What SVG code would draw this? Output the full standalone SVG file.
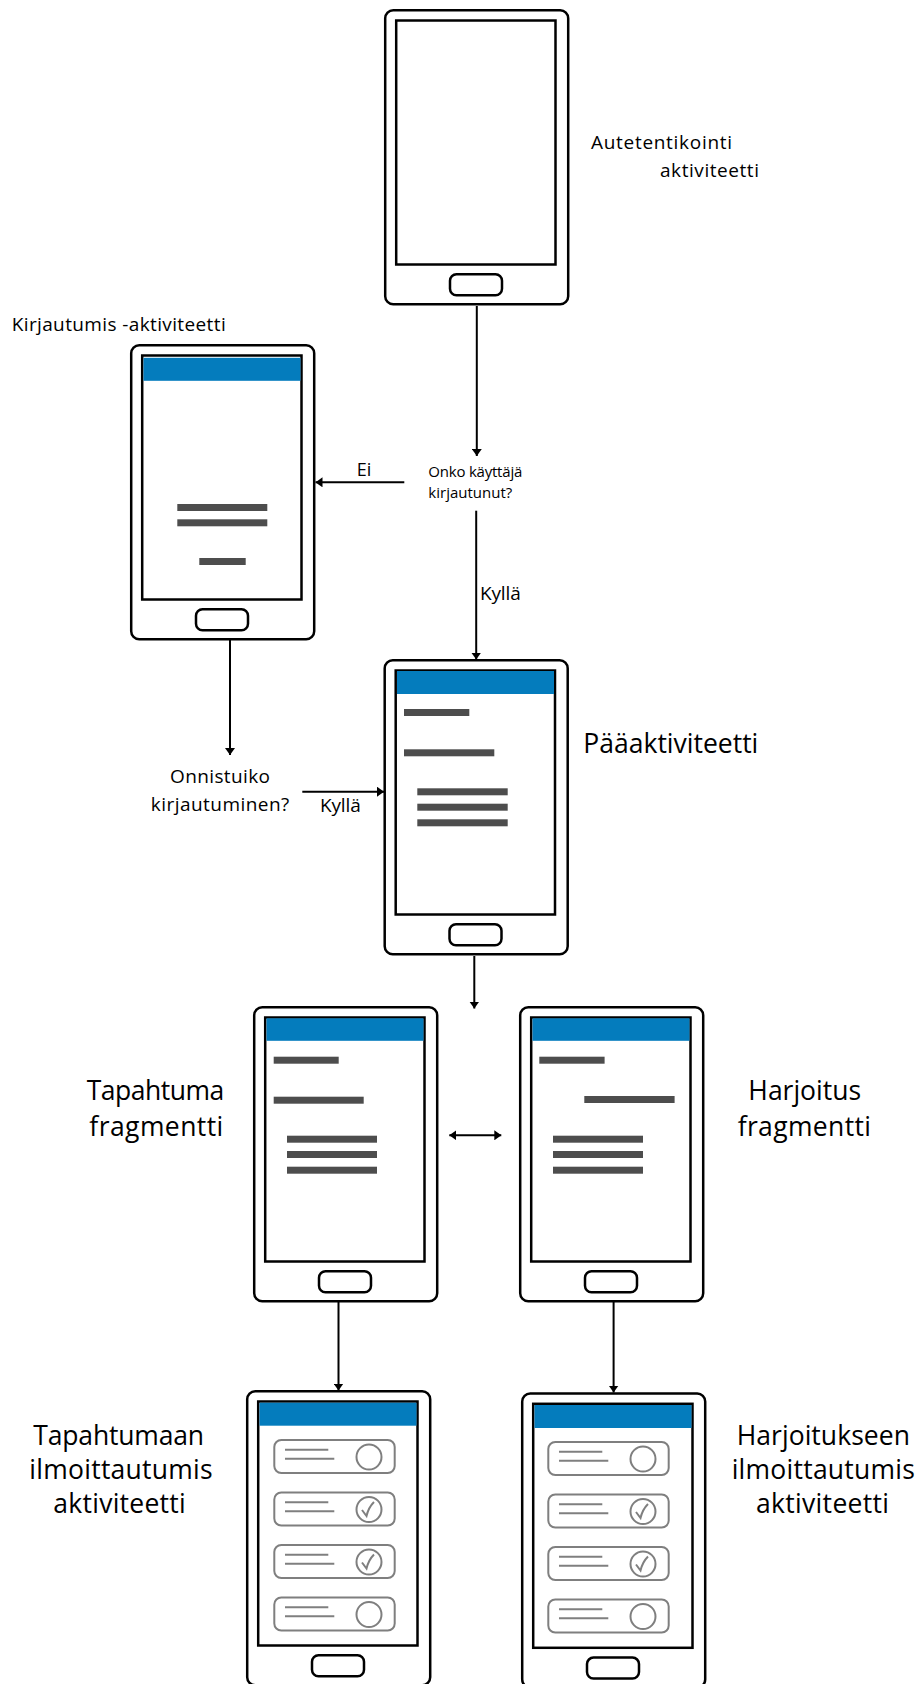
<svg xmlns="http://www.w3.org/2000/svg" width="919" height="1684" viewBox="0 0 919 1684">
  <style>
    .frame { fill: #fff; stroke: #000; stroke-width: 2.5; }
    .screen { fill: #fff; stroke: #000; stroke-width: 2.5; }
    .btn { fill: #fff; stroke: #000; stroke-width: 2.5; }
    .header { fill: #047cbd; }
    .bar { fill: #4d4d4d; }
    .row { fill: none; stroke: #7f7f7f; stroke-width: 2; }
    .wire { fill: none; stroke: #000; stroke-width: 2; }
    .lbl { font-family: "Open Sans", "Noto Sans", sans-serif; fill: #000; }
    .s15 { font-size: 15px; }
    .s19 { font-size: 19px; }
    .big { font-size: 26.5px; }
  </style>
  <defs>
    <marker id="head" markerUnits="userSpaceOnUse" markerWidth="7" markerHeight="10" viewBox="0 0 7 10" refX="7" refY="5" orient="auto-start-reverse">
      <path d="M0,0 L7,5 L0,10 Z" fill="#000"/>
    </marker>
    <!-- bare handset: body, screen, home button -->
    <symbol id="phone" overflow="visible">
      <rect class="frame" x="1.2" y="1.2" width="183" height="294" rx="8"/>
      <rect class="screen" x="12.2" y="11.5" width="159.3" height="244"/>
      <rect class="btn" x="66" y="265.3" width="52" height="21" rx="6.5"/>
    </symbol>
    <!-- list row: text lines and a round toggle -->
    <g id="row">
      <rect class="row" x="0" y="0" width="120.4" height="33" rx="7"/>
      <line class="row" x1="10.7" y1="9.7" x2="54" y2="9.7"/>
      <line class="row" x1="10.7" y1="18.7" x2="60" y2="18.7"/>
      <circle class="row" cx="94.7" cy="17" r="12.5"/>
    </g>
    <path id="tick" class="row" d="M99.7,9.5 Q94.2,15 92.2,23.5 L87.7,17.5"/>
  </defs>

  <!-- connectors -->
  <g id="connectors">
    <line class="wire" x1="476.8" y1="306" x2="476.8" y2="456" marker-end="url(#head)"/>
    <line class="wire" x1="404.3" y1="482.3" x2="315.5" y2="482.3" marker-end="url(#head)"/>
    <line class="wire" x1="476.2" y1="510.7" x2="476.2" y2="659.5" marker-end="url(#head)"/>
    <line class="wire" x1="230" y1="640" x2="230" y2="755" marker-end="url(#head)"/>
    <line class="wire" x1="302.3" y1="791.7" x2="384" y2="791.7" marker-end="url(#head)"/>
    <line class="wire" x1="474.3" y1="956" x2="474.3" y2="1008.5" marker-end="url(#head)"/>
    <line class="wire" x1="449.3" y1="1135.3" x2="501.3" y2="1135.3" marker-start="url(#head)" marker-end="url(#head)"/>
    <line class="wire" x1="338.5" y1="1302" x2="338.5" y2="1390.5" marker-end="url(#head)"/>
    <line class="wire" x1="613.6" y1="1302" x2="613.6" y2="1392.5" marker-end="url(#head)"/>
    <text class="lbl" x="356.7" y="475.7" font-size="18" textLength="14.5">Ei</text>
    <text class="lbl s19" x="480" y="600" textLength="40.7">Kyllä</text>
    <text class="lbl s19" x="320" y="811.7" textLength="40.7">Kyllä</text>
  </g>

  <!-- authentication activity -->
  <g id="auth-activity">
    <use href="#phone" transform="translate(384,9)"/>
    <text class="lbl s19" x="591" y="149" textLength="141">Autetentikointi</text>
    <text class="lbl s19" x="660" y="177" textLength="99">aktiviteetti</text>
  </g>

  <!-- login decision -->
  <g id="logged-in-check">
    <text class="lbl s15" x="428.3" y="476.7" textLength="94">Onko käyttäjä</text>
    <text class="lbl s15" x="428.3" y="498" textLength="84">kirjautunut?</text>
  </g>

  <!-- login activity -->
  <g id="login-activity">
    <text class="lbl s19" x="11.7" y="331" textLength="214">Kirjautumis -aktiviteetti</text>
    <g transform="translate(130,344)">
      <use href="#phone"/>
      <rect class="header" x="13.5" y="13.8" width="157" height="23"/>
      <rect class="bar" x="47.3" y="160" width="90" height="7"/>
      <rect class="bar" x="47.3" y="175.3" width="90" height="7"/>
      <rect class="bar" x="69.3" y="214" width="46.4" height="7"/>
    </g>
  </g>

  <!-- login result decision -->
  <g id="login-ok-check">
    <text class="lbl s19" x="220" y="782.7" text-anchor="middle" textLength="100">Onnistuiko</text>
    <text class="lbl s19" x="220" y="810.7" text-anchor="middle" textLength="138.6">kirjautuminen?</text>
  </g>

  <!-- main activity -->
  <g id="main-activity">
    <g transform="translate(383.5,659)">
      <use href="#phone"/>
      <rect class="header" x="13.5" y="12" width="157" height="23"/>
      <rect class="bar" x="20.5" y="50" width="65.3" height="7"/>
      <rect class="bar" x="20.5" y="90.3" width="90.3" height="7"/>
      <rect class="bar" x="33.8" y="129.3" width="90.4" height="7"/>
      <rect class="bar" x="33.8" y="144.7" width="90.4" height="7"/>
      <rect class="bar" x="33.8" y="160.3" width="90.4" height="7"/>
    </g>
    <text class="lbl big" x="583.3" y="752.7" textLength="175">Pääaktiviteetti</text>
  </g>

  <!-- event fragment -->
  <g id="event-fragment">
    <g transform="translate(253,1006)">
      <use href="#phone"/>
      <rect class="header" x="13.5" y="12.3" width="157" height="22.5"/>
      <rect class="bar" x="20.7" y="50.7" width="65" height="7"/>
      <rect class="bar" x="20.7" y="90.7" width="90" height="7"/>
      <rect class="bar" x="34" y="129.7" width="90" height="7"/>
      <rect class="bar" x="34" y="145" width="90" height="7"/>
      <rect class="bar" x="34" y="160.7" width="90" height="7"/>
    </g>
    <text class="lbl big" x="155.5" y="1100" text-anchor="middle" textLength="137.6">Tapahtuma</text>
    <text class="lbl big" x="156.3" y="1135.7" text-anchor="middle" textLength="134">fragmentti</text>
  </g>

  <!-- training fragment -->
  <g id="training-fragment">
    <g transform="translate(519,1006)">
      <use href="#phone"/>
      <rect class="header" x="13.5" y="12.3" width="157" height="22.5"/>
      <rect class="bar" x="20.3" y="50.7" width="65.3" height="7"/>
      <rect class="bar" x="65.3" y="90" width="90.3" height="7"/>
      <rect class="bar" x="34" y="129.7" width="90" height="7"/>
      <rect class="bar" x="34" y="145" width="90" height="7"/>
      <rect class="bar" x="34" y="160.7" width="90" height="7"/>
    </g>
    <text class="lbl big" x="804.7" y="1100" text-anchor="middle" textLength="112.7">Harjoitus</text>
    <text class="lbl big" x="804.3" y="1135.7" text-anchor="middle" textLength="133.3">fragmentti</text>
  </g>

  <!-- event sign-up activity -->
  <g id="event-signup-activity">
    <g transform="translate(246,1390)">
      <use href="#phone"/>
      <rect class="header" x="13.5" y="12.7" width="157" height="23"/>
      <use href="#row" transform="translate(28.3,50)"/>
      <use href="#row" transform="translate(28.3,102.5)"/>
      <use href="#tick" transform="translate(28.3,102.5)"/>
      <use href="#row" transform="translate(28.3,155)"/>
      <use href="#tick" transform="translate(28.3,155)"/>
      <use href="#row" transform="translate(28.3,207.5)"/>
    </g>
    <text class="lbl big" x="118.7" y="1445" text-anchor="middle" textLength="170.7">Tapahtumaan</text>
    <text class="lbl big" x="121" y="1479.3" text-anchor="middle" textLength="183.3">ilmoittautumis</text>
    <text class="lbl big" x="119.5" y="1513.3" text-anchor="middle" textLength="132.3">aktiviteetti</text>
  </g>

  <!-- training sign-up activity -->
  <g id="training-signup-activity">
    <g transform="translate(521,1392.3)">
      <use href="#phone"/>
      <rect class="header" x="13.5" y="12.7" width="157" height="23"/>
      <use href="#row" transform="translate(27.3,49.7)"/>
      <use href="#row" transform="translate(27.3,102.2)"/>
      <use href="#tick" transform="translate(27.3,102.2)"/>
      <use href="#row" transform="translate(27.3,154.7)"/>
      <use href="#tick" transform="translate(27.3,154.7)"/>
      <use href="#row" transform="translate(27.3,207.2)"/>
    </g>
    <text class="lbl big" x="823.3" y="1445" text-anchor="middle" textLength="173.3">Harjoitukseen</text>
    <text class="lbl big" x="823.3" y="1479.3" text-anchor="middle" textLength="183.3">ilmoittautumis</text>
    <text class="lbl big" x="822.5" y="1513.3" text-anchor="middle" textLength="133">aktiviteetti</text>
  </g>
</svg>
